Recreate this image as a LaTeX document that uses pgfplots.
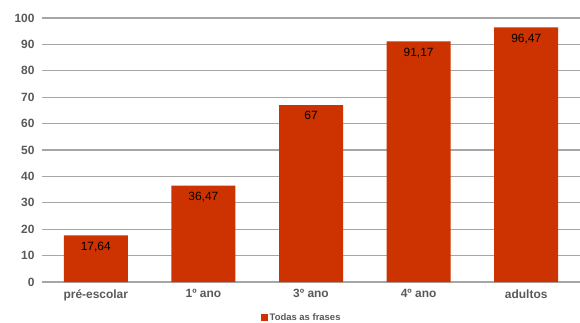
\documentclass[border=0pt]{standalone}
\usepackage{fontspec}
\setmainfont{Liberation Sans}
\usepackage{pgfplots}
\pgfplotsset{compat=1.18}
\definecolor{barred}{HTML}{CC3300}
\definecolor{gridgray}{HTML}{A6A6A6}
\definecolor{labgray}{HTML}{595959}
\begin{document}
\begin{tikzpicture}[x=1bp,y=1bp]
\useasboundingbox (0,0) rectangle (580,322);
\begin{axis}[
  at={(42bp,40bp)}, anchor=south west,
  scale only axis, width=538bp, height=264bp,
  ymin=0, ymax=100, ytick={0,10,...,100},
  xmin=-0.5, xmax=4.5,
  xtick={0,1,2,3,4},
  xticklabels={pré-escolar,1º ano,3º ano,4º ano,adultos},
  axis line style={draw=none},
  ymajorgrids, grid style={gridgray, line width=1.1bp},
  major tick length=0pt,
  tick label style={font=\bfseries\fontsize{12}{14}\selectfont, text=labgray},
  yticklabel style={xshift=-4bp},
  xticklabel style={yshift=-4bp},
  /pgf/number format/assume math mode=true,
  legend style={at={(0.483,-0.136)}, anchor=center, draw=none, font=\bfseries\fontsize{9.5}{11}\selectfont\color{labgray},
    legend image code/.code={\fill[barred] (0bp,-3bp) rectangle (6.5bp,3.5bp);}, inner sep=0pt},
  nodes near coords,
  point meta=explicit symbolic,
  every node near coord/.append style={anchor=north, yshift=-3bp, font=\fontsize{12}{14}\selectfont, text=black},
]
\addplot[ybar, bar width=64bp, fill=barred, draw=none] coordinates {
  (0,17.64) [17,64]
  (1,36.47) [36,47]
  (2,67) [67]
  (3,91.17) [91,17]
  (4,96.47) [96,47]
};
\addlegendentry{Todas as frases}
\end{axis}
\end{tikzpicture}
\end{document}
